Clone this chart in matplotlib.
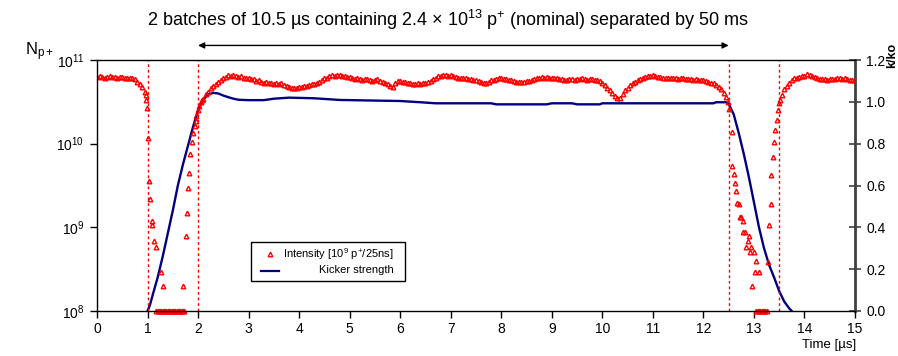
import numpy as np
import matplotlib
matplotlib.use('Agg')
import matplotlib.pyplot as plt
from matplotlib.patches import Rectangle
from matplotlib.lines import Line2D

plt.rcParams['font.family'] = ['Liberation Sans', 'DejaVu Sans']
plt.rcParams['mathtext.fontset'] = 'custom'
plt.rcParams['mathtext.rm'] = 'Liberation Sans'
plt.rcParams['mathtext.it'] = 'Liberation Sans:italic'
plt.rcParams['mathtext.bf'] = 'Liberation Sans:bold'
plt.rcParams['mathtext.default'] = 'regular'

# ---------------- data ----------------
# Kicker strength k/ko (right axis)
kick_t = [1.0, 1.05, 1.1, 1.2, 1.3, 1.4, 1.5, 1.6, 1.7, 1.8, 1.9, 2.0, 2.1, 2.2, 2.3, 2.4,
          2.5, 2.6, 2.7, 2.8, 3.0, 3.3, 3.5, 3.8, 4.3, 4.8, 5.5, 6.0, 6.4, 6.7, 7.8, 7.9,
          8.9, 9.0, 9.4, 9.5, 9.95, 10.0, 12.2, 12.25, 12.45, 12.5, 12.6, 12.7, 12.8,
          12.9, 13.0, 13.1, 13.2, 13.3, 13.4, 13.5, 13.6, 13.7, 13.75]
kick_val = [0.0, 0.03, 0.075, 0.16, 0.26, 0.37, 0.48, 0.6, 0.7, 0.79, 0.88, 0.96, 1.01,
            1.035, 1.043, 1.04, 1.03, 1.022, 1.015, 1.01, 1.008, 1.008, 1.015, 1.02, 1.017,
            1.009, 1.006, 1.004, 0.998, 0.993, 0.993, 0.988, 0.988, 0.993, 0.993, 0.988,
            0.988, 0.993, 0.993, 0.998, 0.998, 0.99, 0.94, 0.85, 0.75, 0.64, 0.52, 0.40,
            0.30, 0.22, 0.16, 0.095, 0.045, 0.012, 0.0]

# Intensity (log10 of N), regular 0.05 us sampling on the flat parts
step = 0.05
pre_start = 0.0
pre_log = [10.80, 10.81, 10.80, 10.79, 10.80, 10.81, 10.80, 10.80, 10.79, 10.80,
           10.80, 10.79, 10.79, 10.78, 10.79, 10.77, 10.74, 10.71, 10.68, 10.62]

mid_start = 2.10
mid_log = [10.53, 10.59, 10.62, 10.66, 10.69, 10.71, 10.74, 10.76, 10.79, 10.80,
           10.82, 10.81, 10.82, 10.81, 10.80, 10.81, 10.79, 10.78, 10.78, 10.77,
           10.77, 10.75, 10.76, 10.74, 10.73, 10.74, 10.72, 10.73, 10.71, 10.72,
           10.71, 10.72, 10.70, 10.69, 10.68, 10.67, 10.66, 10.67, 10.68, 10.68,
           10.69, 10.69, 10.70, 10.71, 10.71, 10.73, 10.74, 10.76, 10.78, 10.79,
           10.81, 10.82, 10.81, 10.82, 10.82, 10.81, 10.81, 10.80, 10.80, 10.78,
           10.77, 10.78, 10.77, 10.76, 10.77, 10.77, 10.76, 10.75, 10.76, 10.77,
           10.75, 10.74, 10.72, 10.71, 10.69, 10.68, 10.73, 10.75, 10.75, 10.74,
           10.74, 10.73, 10.72, 10.71, 10.71, 10.72, 10.71, 10.72, 10.73, 10.74,
           10.75, 10.77, 10.79, 10.81, 10.81, 10.82, 10.82, 10.81, 10.82, 10.81,
           10.80, 10.79, 10.78, 10.78, 10.78, 10.77, 10.77, 10.76, 10.76, 10.75,
           10.74, 10.73, 10.73, 10.74, 10.76, 10.76, 10.77, 10.79, 10.78, 10.77,
           10.77, 10.76, 10.76, 10.75, 10.74, 10.74, 10.74, 10.74, 10.75, 10.75,
           10.76, 10.77, 10.78, 10.79, 10.80, 10.79, 10.80, 10.79, 10.79, 10.78,
           10.78, 10.77, 10.77, 10.76, 10.76, 10.77, 10.77, 10.76, 10.77, 10.77,
           10.78, 10.77, 10.76, 10.77, 10.77, 10.76, 10.76, 10.75, 10.73, 10.70,
           10.67, 10.64, 10.60, 10.57, 10.54, 10.55, 10.59, 10.64, 10.67, 10.70,
           10.72, 10.74, 10.76, 10.77, 10.79, 10.80, 10.81, 10.81, 10.82, 10.81,
           10.80, 10.80, 10.79, 10.79, 10.78, 10.78, 10.79, 10.78, 10.77, 10.78,
           10.78, 10.77, 10.77, 10.77, 10.76, 10.77, 10.76, 10.76, 10.76, 10.75,
           10.74, 10.73, 10.72, 10.70, 10.68, 10.65, 10.61, 10.56]

post_start = 13.55
post_log = [10.58, 10.65, 10.69, 10.73, 10.76, 10.78, 10.79, 10.80, 10.81, 10.81,
            10.83, 10.82, 10.81, 10.80, 10.78, 10.77, 10.77, 10.77, 10.76, 10.77,
            10.77, 10.77, 10.78, 10.78, 10.77, 10.78, 10.77, 10.76, 10.76, 10.76]

# Transition points (time, log10 N)
fall1_t = [0.96, 0.97, 0.98, 1.00, 1.035, 1.05, 1.08, 1.09, 1.13, 1.16, 1.26, 1.31]
fall1_log = [10.58, 10.52, 10.43, 10.07, 9.55, 9.34, 9.07, 9.03, 8.84, 8.77, 8.47, 8.30]
rise1_t = [1.70, 1.76, 1.775, 1.81, 1.83, 1.85, 1.88, 1.90, 1.93, 1.95, 1.965, 1.99,
           2.02, 2.06, 2.08]
rise1_log = [8.30, 8.90, 9.17, 9.47, 9.65, 9.88, 10.02, 10.13, 10.21, 10.27, 10.33,
             10.40, 10.45, 10.50, 10.52]
fall2_t = [12.49, 12.51, 12.56, 12.57, 12.60, 12.62, 12.65, 12.67, 12.70, 12.72, 12.75,
           12.78, 12.78, 12.83, 12.84, 12.88, 12.90, 12.92, 12.94, 12.97, 13.00, 13.02,
           13.05, 13.10]
fall2_log = [10.50, 10.41, 10.14, 9.73, 9.64, 9.53, 9.43, 9.29, 9.28, 9.12, 9.12, 9.07,
             8.94, 8.94, 8.77, 8.84, 8.90, 8.70, 8.77, 8.30, 8.70, 8.47, 8.60, 8.47]
rise2_t = [13.27, 13.29, 13.33, 13.34, 13.37, 13.39, 13.42, 13.46, 13.47, 13.50, 13.52]
rise2_log = [8.58, 9.03, 9.28, 9.62, 9.84, 10.02, 10.16, 10.28, 10.40, 10.49, 10.52]
# Zero-intensity samples (shown on the 10^8 floor)
zero1_t = [1.175, 1.20, 1.225, 1.25, 1.275, 1.30, 1.325, 1.35, 1.375, 1.40, 1.425, 1.45,
           1.475, 1.50, 1.525, 1.55, 1.575, 1.60, 1.625, 1.65, 1.675, 1.70, 1.72]
zero2_t = [13.05, 13.075, 13.10, 13.125, 13.15, 13.175, 13.20, 13.225, 13.25]
floor_log = 8.0

vlines_t = [1.0, 2.0, 12.5, 13.5]
xticks = list(range(0, 16))
yticks_left = [1e8, 1e9, 1e10, 1e11]
yticklabels_left = ['10$^{8}$', '10$^{9}$', '10$^{10}$', '10$^{11}$']
yticks_right = [0.0, 0.2, 0.4, 0.6, 0.8, 1.0, 1.2]

# ---------------- build series ----------------
def grid(start, n):
    return start + step * np.arange(n)

int_t = np.concatenate([grid(pre_start, len(pre_log)), fall1_t, rise1_t,
                        grid(mid_start, len(mid_log)), fall2_t, rise2_t,
                        grid(post_start, len(post_log))])
int_log = np.concatenate([pre_log, fall1_log, rise1_log, mid_log, fall2_log,
                          rise2_log, post_log])
int_N = 10.0 ** int_log
zero_t = np.array(zero1_t + zero2_t)
zero_N = np.full(len(zero_t), 10.0 ** floor_log)

# ---------------- figure ----------------
fig = plt.figure(figsize=(8.98, 3.56), dpi=100)
ax = fig.add_axes([97/898, 45/356, 758/898, 251/356])
ax2 = ax.twinx()

red = '#ff0000'
mk = dict(ls='none', marker='^', ms=3.3, mfc='none', mec=red, mew=1.0)
ax.plot(int_t, int_N, **mk)
ax.plot(zero_t, zero_N, clip_on=False, **mk)
for xv in vlines_t:
    ax.axvline(xv, color=red, lw=1.0, ls=(0, (2, 2)))

ax2.plot(kick_t, kick_val, color='#000080', lw=1.7, solid_capstyle='round')

ax.set_yscale('log')
ax.set_ylim(1e8, 1e11)
ax.set_xlim(0, 15)
ax2.set_ylim(0, 1.2)

ax.set_zorder(ax2.get_zorder() + 1)
ax.patch.set_visible(False)

tfs = 10
ax.set_xticks(xticks)
ax.set_xticklabels([str(v) for v in xticks], fontsize=tfs)
ax.set_yticks(yticks_left)
ax.set_yticklabels(yticklabels_left, fontsize=tfs)
ax.yaxis.set_minor_locator(matplotlib.ticker.NullLocator())
ax.tick_params(axis='x', direction='out', length=5, width=1, pad=3)
ax.tick_params(axis='y', direction='out', length=5, width=1, pad=4)
ax.spines['right'].set_visible(False)
for s in ['left', 'top', 'bottom']:
    ax.spines[s].set_linewidth(1.0)

ax2.set_yticks(yticks_right)
ax2.set_yticklabels(['%.1f' % v for v in yticks_right], fontsize=tfs)
ax2.tick_params(axis='y', direction='inout', length=8, width=1.2, pad=4, color='#404040')
for s in ['left', 'top', 'bottom']:
    ax2.spines[s].set_visible(False)
ax2.spines['right'].set_linewidth(2.0)
ax2.spines['right'].set_color('#404040')

# Title, arrow and labels
fig.text(0.499, 0.944, '2 batches of 10.5 µs containing 2.4 × 10$^{13}$ p$^{+}$ (nominal) separated by 50 ms',
         ha='center', va='center', fontsize=13)
ax.annotate('', xy=(2.0, 1.058), xytext=(12.5, 1.058), xycoords=ax.get_xaxis_transform(),
            textcoords=ax.get_xaxis_transform(), annotation_clip=False,
            arrowprops=dict(arrowstyle='<|-|>', color='black', lw=1.0,
                            shrinkA=0, shrinkB=0, mutation_scale=9))
fig.text(25/898, 1 - 52/356, 'N$_{p+}$', ha='left', va='center', fontsize=12)
fig.text(892/898, 1 - 55/356, 'k/ko', ha='center', va='center', rotation=90,
         fontsize=9, fontweight='bold')
fig.text(856/898, 1 - 345/356, 'Time [µs]', ha='right', va='center', fontsize=9.5)

# Legend (Excel-like: right-aligned labels)
ax.add_patch(Rectangle((0.203, 0.12), 0.203, 0.155, transform=ax.transAxes,
                       fill=True, facecolor='white', edgecolor='black', lw=1.0,
                       zorder=5, clip_on=False))
ax.add_line(Line2D([0.228], [0.227], transform=ax.transAxes, zorder=6, **mk))
ax.add_line(Line2D([0.216, 0.240], [0.159, 0.159], transform=ax.transAxes, zorder=6,
                   color='#000080', lw=1.6))
ax.text(0.391, 0.227, 'Intensity [10$^{9}$ p$^{+}$/25ns]', transform=ax.transAxes,
        ha='right', va='center', fontsize=8, zorder=7)
ax.text(0.391, 0.165, 'Kicker strength', transform=ax.transAxes,
        ha='right', va='center', fontsize=8, zorder=7)

fig.savefig('out.png', dpi=100)
